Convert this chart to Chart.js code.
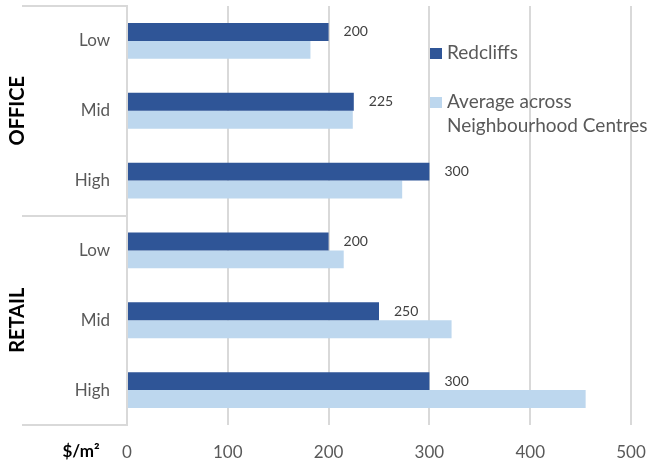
<!DOCTYPE html>
<html>
<head>
<meta charset="utf-8">
<script src="https://cdn.jsdelivr.net/npm/chart.js@4/dist/chart.umd.min.js"></script>
<style>
  html, body { margin: 0; padding: 0; background: #ffffff; }
  #wrap { width: 649px; height: 466px; position: relative; }
</style>
</head>
<body>
<div id="wrap"><canvas id="c" width="649" height="466"></canvas></div>
<script>
// ---- Data ----
const categories = ["Low", "Mid", "High", "Low", "Mid", "High"];
const groups = ["OFFICE", "RETAIL"];
const groupSizes = [3, 3];
const seriesNames = ["Redcliffs", "Average across\nNeighbourhood Centres"];
const redcliffs = [200, 225, 300, 200, 250, 300];
const averageNC = [182, 224, 273, 215, 322, 455];
const xTicks = [0, 100, 200, 300, 400, 500];
const unitLabel = "$/m\u00B2";

const DARK = "#2F5597";
const LIGHT = "#BDD7EE";
const GRID = "#D9D9D9";
const FONT = "Lato, 'Open Sans', sans-serif";

const sidePlugin = {
  id: "sidePlugin",
  afterDraw(chart) {
    const ctx = chart.ctx;
    const area = chart.chartArea;
    const step = (area.bottom - area.top) / categories.length;
    ctx.save();
    // separator lines
    ctx.strokeStyle = GRID;
    ctx.lineWidth = 2;
    let idx = 0;
    const bounds = [0];
    groupSizes.forEach(s => { idx += s; bounds.push(idx); });
    bounds.forEach(b => {
      const py = Math.round(area.top + b * step);
      ctx.beginPath();
      ctx.moveTo(22, py);
      ctx.lineTo(area.left, py);
      ctx.stroke();
    });
    // group labels
    ctx.fillStyle = "#000000";
    ctx.font = "bold 20px " + FONT;
    ctx.textAlign = "center";
    ctx.textBaseline = "middle";
    for (let g = 0; g < groups.length; g++) {
      const cy = area.top + (bounds[g] + bounds[g + 1]) / 2 * step;
      ctx.save();
      ctx.translate(18, cy);
      ctx.rotate(-Math.PI / 2);
      ctx.fillText(groups[g], 0, 0);
      ctx.restore();
    }
    // unit label
    ctx.font = "bold 17px " + FONT;
    ctx.textAlign = "center";
    ctx.fillText(unitLabel, 81, 452);

    // data labels for first dataset
    const meta = chart.getDatasetMeta(0);
    ctx.fillStyle = "#404040";
    ctx.font = "14px " + FONT;
    ctx.textAlign = "left";
    ctx.textBaseline = "middle";
    meta.data.forEach((bar, i) => {
      ctx.fillText(String(redcliffs[i]), bar.x + 15, bar.y);
    });

    // legend
    ctx.font = "19px " + FONT;
    const lx = 430;
    const items = [
      { color: DARK, lines: seriesNames[0].split("\n"), y: 53 },
      { color: LIGHT, lines: seriesNames[1].split("\n"), y: 102 }
    ];
    items.forEach(it => {
      ctx.fillStyle = it.color;
      ctx.fillRect(lx, it.y - 5, 12, 11);
      ctx.fillStyle = "#595959";
      it.lines.forEach((ln, k) => {
        ctx.fillText(ln, lx + 17, it.y + k * 24);
      });
    });
    ctx.restore();
  }
};

new Chart(document.getElementById("c"), {
  type: "bar",
  data: {
    labels: categories,
    datasets: [
      { label: seriesNames[0], data: redcliffs, backgroundColor: DARK,
        categoryPercentage: 0.514, barPercentage: 1.0 },
      { label: seriesNames[1], data: averageNC, backgroundColor: LIGHT,
        categoryPercentage: 0.514, barPercentage: 1.0 }
    ]
  },
  options: {
    indexAxis: "y",
    responsive: false,
    animation: false,
    devicePixelRatio: 1,
    layout: { padding: { top: 6, right: 18, left: 0, bottom: 0 } },
    plugins: { legend: { display: false }, tooltip: { enabled: false } },
    scales: {
      x: {
        type: "linear",
        min: xTicks[0],
        max: xTicks[xTicks.length - 1],
        afterBuildTicks(scale) { scale.ticks = xTicks.map(v => ({ value: v })); },
        afterFit(scale) {
          scale.height = 41;
          scale.paddingLeft = 0; scale.paddingRight = 0;
          scale.paddingTop = 0; scale.paddingBottom = 0;
        },
        grid: { color: GRID, lineWidth: 2, drawTicks: false },
        border: { display: false },
        ticks: { color: "#595959", font: { family: FONT, size: 17 }, padding: 17 }
      },
      y: {
        afterFit(scale) {
          scale.width = 127;
          scale.paddingTop = 0; scale.paddingBottom = 0;
          scale.paddingLeft = 0; scale.paddingRight = 0;
        },
        grid: { display: false, drawTicks: false },
        border: { display: true, color: GRID, width: 2 },
        ticks: { color: "#595959", font: { family: FONT, size: 17 }, padding: 17 }
      }
    }
  },
  plugins: [sidePlugin]
});
</script>
</body>
</html>
